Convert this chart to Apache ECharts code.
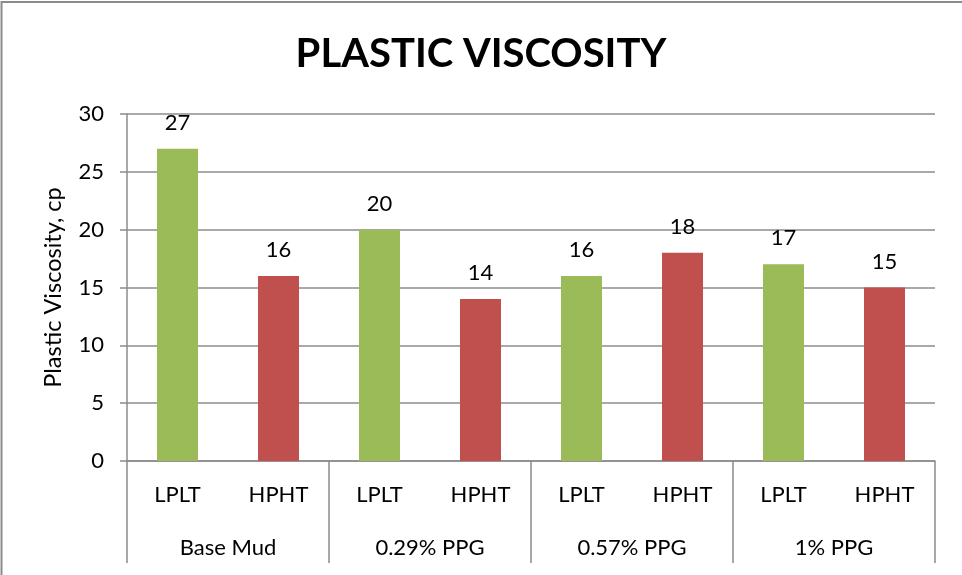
<!DOCTYPE html>
<html>
<head>
<meta charset="utf-8">
<script src="https://cdn.jsdelivr.net/npm/echarts@6/dist/echarts.min.js"></script>
<style>
  html, body { margin: 0; padding: 0; background: #fff; }
  #chart { width: 962px; height: 575px; }
</style>
</head>
<body>
<div id="chart"></div>
<script>
// Inner categories (test condition) and outer groups (mud formulation)
const conditions = ['LPLT', 'HPHT', 'LPLT', 'HPHT', 'LPLT', 'HPHT', 'LPLT', 'HPHT'];
const groups = ['Base Mud', '0.29% PPG', '0.57% PPG', '1% PPG'];

// Plastic viscosity (cp) per group
const lpltValues = [27, 20, 16, 17];
const hphtValues = [16, 14, 18, 15];

const yTicks = [0, 5, 10, 15, 20, 25, 30];

// Spread each series over the 8 inner slots
const lpltSlots = [];
const hphtSlots = [];
groups.forEach((g, i) => {
  lpltSlots.push(lpltValues[i], '-');
  hphtSlots.push('-', hphtValues[i]);
});

const FONT = 'Lato, "Open Sans", sans-serif';
const gridColor = '#8c8c8c';

const chart = echarts.init(document.getElementById('chart'), null, { renderer: 'canvas' });

const labelStyle = {
  show: true,
  position: 'top',
  distance: 15,
  color: '#000',
  fontFamily: FONT,
  fontSize: 22
};

chart.setOption({
  animation: false,
  backgroundColor: '#fff',
  title: {
    text: 'PLASTIC VISCOSITY',
    left: 'center',
    top: 29,
    textStyle: { fontFamily: FONT, fontWeight: 'bold', fontSize: 40, color: '#000' }
  },
  grid: { left: 127, right: 27, top: 114, bottom: 114, containLabel: false },
  xAxis: [
    {
      type: 'category',
      data: conditions,
      position: 'bottom',
      axisLine: { show: true, lineStyle: { color: gridColor, width: 1.5 } },
      axisTick: { show: false },
      axisLabel: { interval: 0, margin: 23, color: '#000', fontFamily: FONT, fontSize: 22 }
    },
    {
      type: 'category',
      data: groups,
      position: 'bottom',
      axisLine: { show: false },
      axisTick: { show: true, interval: 0, length: 102, lineStyle: { color: gridColor, width: 1.5 } },
      axisLabel: { interval: 0, margin: 76, color: '#000', fontFamily: FONT, fontSize: 22 }
    }
  ],
  yAxis: {
    type: 'value',
    min: yTicks[0],
    max: yTicks[yTicks.length - 1],
    interval: 5,
    name: 'Plastic Viscosity, cp',
    nameLocation: 'middle',
    nameGap: 62,
    nameTextStyle: { color: '#000', fontFamily: FONT, fontSize: 23.5 },
    axisLine: { show: true, lineStyle: { color: gridColor, width: 1.5 } },
    axisTick: { show: true, length: 7, lineStyle: { color: gridColor, width: 1.5 } },
    axisLabel: { margin: 23, color: '#000', fontFamily: FONT, fontSize: 22 },
    splitLine: { show: true, lineStyle: { color: gridColor, width: 1.5 } }
  },
  series: [
    {
      name: 'LPLT',
      type: 'bar',
      data: lpltSlots,
      barWidth: 41,
      barGap: '-100%',
      itemStyle: { color: '#9BBB59' },
      label: labelStyle
    },
    {
      name: 'HPHT',
      type: 'bar',
      data: hphtSlots,
      barWidth: 41,
      itemStyle: { color: '#C0504D' },
      label: labelStyle
    }
  ],
  graphic: [
    {
      type: 'rect',
      shape: { x: 1.5, y: 2, width: 1200, height: 1200 },
      style: { fill: 'none', stroke: '#8c8c8c', lineWidth: 2 },
      silent: true
    }
  ]
});
</script>
</body>
</html>
